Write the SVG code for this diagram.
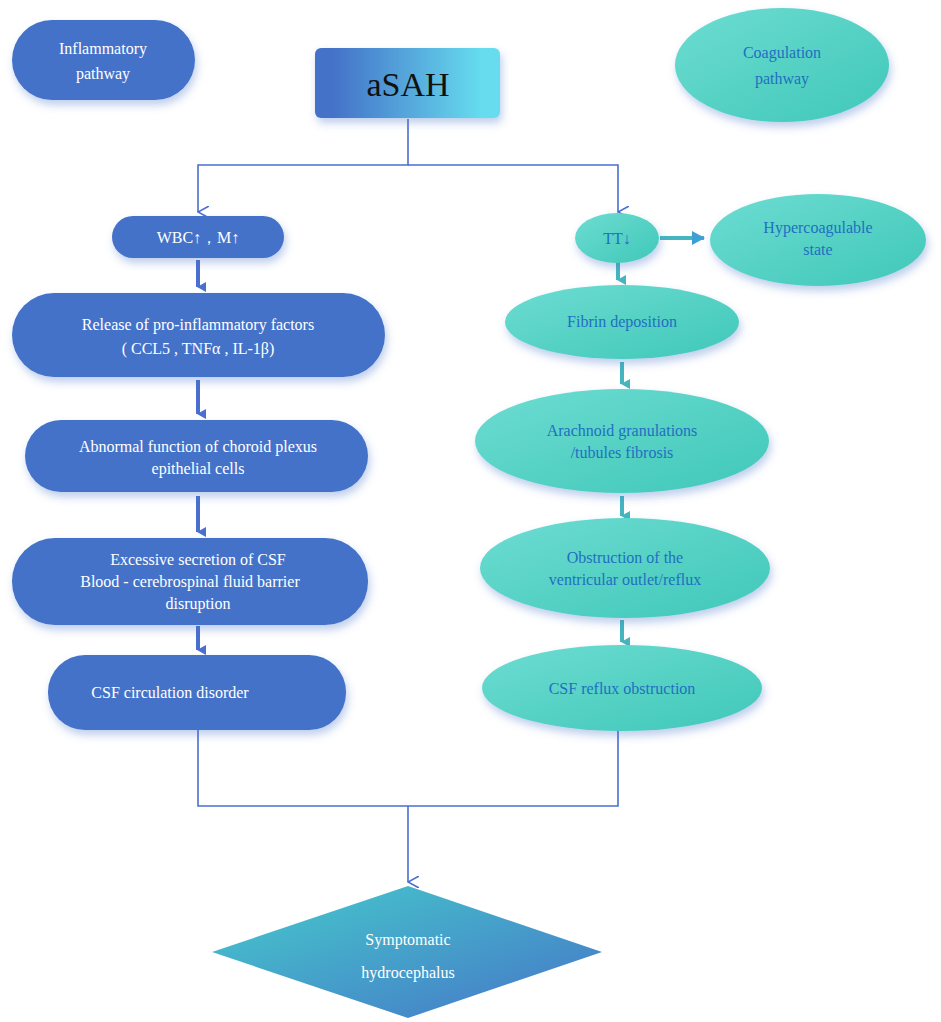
<svg xmlns="http://www.w3.org/2000/svg" width="941" height="1022" viewBox="0 0 941 1022">
<style>
.l{fill:#4472c9}
.r{fill:url(#tg)}
.lt{font-family:"Liberation Serif",serif;font-size:16px;fill:#fff;text-anchor:middle}
.rt{font-family:"Liberation Serif",serif;font-size:16px;fill:#1f6fc0;text-anchor:middle}
.c{stroke:#4a6fcf;stroke-width:1.6;fill:none}
.th{stroke:#4a6fcf;stroke-width:4;fill:none}
.tt{stroke:#45b5c0;stroke-width:4;fill:none}
</style>
<defs>
<linearGradient id="tg" x1="0" y1="0" x2="1" y2="1"><stop offset="0" stop-color="#6edcd2"/><stop offset="1" stop-color="#3fc8b8"/></linearGradient>
<linearGradient id="ag" x1="0" y1="0" x2="1" y2="0"><stop offset="0.1" stop-color="#4472c9"/><stop offset="0.9" stop-color="#66dcee"/></linearGradient>
<linearGradient id="dg" x1="0" y1="0" x2="1" y2="1"><stop offset="0" stop-color="#45cccc"/><stop offset="1" stop-color="#4575c8"/></linearGradient>
<filter id="sh" x="-20%" y="-20%" width="140%" height="150%"><feDropShadow dx="2" dy="5" stdDeviation="4" flood-color="#4472c9" flood-opacity="0.35"/></filter>
<marker id="oa" markerWidth="12" markerHeight="12" refX="6" refY="11" orient="auto-start-reverse" markerUnits="userSpaceOnUse"><path d="M0 0 L6 11 L12 0" fill="none" stroke="#4a6fcf" stroke-width="1.6"/></marker>
<marker id="fa" markerWidth="10" markerHeight="10" refX="5" refY="8" orient="auto" markerUnits="userSpaceOnUse"><path d="M0 0 L10 0 L5 9 Z" fill="#4a6fcf"/></marker>
<marker id="ta" markerWidth="14" markerHeight="14" refX="12" refY="7" orient="auto" markerUnits="userSpaceOnUse"><path d="M0 0 L13 7 L0 14 Z" fill="#3e9ed6"/></marker>
<marker id="td" markerWidth="10" markerHeight="10" refX="5" refY="8" orient="auto" markerUnits="userSpaceOnUse"><path d="M0 0 L10 0 L5 9 Z" fill="#45b5c0"/></marker>
</defs>
<g id="connectors">
<path class="c" d="M408 119 V165 H198 V212" marker-end="url(#oa)"/>
<path class="c" d="M408 165 H618 V212" marker-end="url(#oa)"/>
<path class="c" d="M198 730 V806 H618 V730"/>
<path class="c" d="M408 806 V882" marker-end="url(#oa)"/>
<path class="th" d="M198 260 V287" marker-end="url(#fa)"/>
<path class="th" d="M198 380 V414" marker-end="url(#fa)"/>
<path class="th" d="M198 496 V532" marker-end="url(#fa)"/>
<path class="th" d="M198 626 V650" marker-end="url(#fa)"/>
<path class="tt" d="M660 238 H704" stroke="#3e9ed6" marker-end="url(#ta)"/>
<path class="tt" d="M618 262 V280" marker-end="url(#td)"/>
<path class="tt" d="M622 362 V384" marker-end="url(#td)"/>
<path class="tt" d="M622 496 V516" marker-end="url(#td)"/>
<path class="tt" d="M622 620 V642" marker-end="url(#td)"/>
</g>
<g id="inflammatory"><rect class="l" x="12" y="20" width="183" height="80" rx="40" filter="url(#sh)"/><text class="lt" font-size="18" x="103" y="54">Inflammatory</text><text class="lt" font-size="18" x="103" y="79">pathway</text></g>
<g id="asah"><rect x="315" y="48" width="185" height="70" rx="6" fill="url(#ag)" filter="url(#sh)"/><text x="408" y="96" font-family="Liberation Serif,serif" font-size="34" text-anchor="middle" fill="#111">aSAH</text></g>
<g id="coagulation"><ellipse class="r" cx="782" cy="65" rx="107" ry="57" filter="url(#sh)"/><text class="rt" font-size="20" x="782" y="58">Coagulation</text><text class="rt" font-size="20" x="782" y="84">pathway</text></g>
<g id="wbc"><rect class="l" x="112" y="216" width="172" height="42" rx="21" filter="url(#sh)"/><text class="lt" font-size="15" x="198" y="243">WBC↑，M↑</text></g>
<g id="release"><rect class="l" x="12" y="293" width="373" height="84" rx="42" filter="url(#sh)"/><text class="lt" x="198" y="330">Release of pro-inflammatory factors</text><text class="lt" x="198" y="354">( CCL5 , TNFα , IL-1β)</text></g>
<g id="abnormal"><rect class="l" x="25" y="420" width="343" height="72" rx="36" filter="url(#sh)"/><text class="lt" x="198" y="452">Abnormal function of choroid plexus</text><text class="lt" x="198" y="474">epithelial cells</text></g>
<g id="excessive"><rect class="l" x="12" y="538" width="356" height="87" rx="43" filter="url(#sh)"/><text class="lt" x="198" y="565">Excessive secretion of CSF</text><text class="lt" x="190" y="587">Blood - cerebrospinal fluid barrier</text><text class="lt" x="198" y="609">disruption</text></g>
<g id="csfcirc"><rect class="l" x="48" y="655" width="298" height="75" rx="37" filter="url(#sh)"/><text class="lt" x="170" y="698">CSF circulation disorder</text></g>
<g id="tt"><ellipse class="r" cx="617" cy="238" rx="42" ry="25" filter="url(#sh)"/><text class="rt" font-size="15" x="617" y="244">TT↓</text></g>
<g id="hyper"><ellipse class="r" cx="818" cy="240" rx="108" ry="46" filter="url(#sh)"/><text class="rt" x="818" y="233">Hypercoagulable</text><text class="rt" x="818" y="255">state</text></g>
<g id="fibrin"><ellipse class="r" cx="622" cy="322" rx="117" ry="37" filter="url(#sh)"/><text class="rt" x="622" y="327">Fibrin deposition</text></g>
<g id="arachnoid"><ellipse class="r" cx="622" cy="441" rx="147" ry="52" filter="url(#sh)"/><text class="rt" x="622" y="436">Arachnoid granulations</text><text class="rt" x="622" y="458">/tubules fibrosis</text></g>
<g id="obstruction"><ellipse class="r" cx="625" cy="568" rx="145" ry="50" filter="url(#sh)"/><text class="rt" x="625" y="563">Obstruction of the</text><text class="rt" x="625" y="585">ventricular outlet/reflux</text></g>
<g id="reflux"><ellipse class="r" cx="622" cy="688" rx="140" ry="43" filter="url(#sh)"/><text class="rt" x="622" y="694">CSF reflux obstruction</text></g>
<g id="hydro"><polygon points="408,886 602,952 408,1018 212,952" fill="url(#dg)"/><text class="lt" font-size="24" x="408" y="945">Symptomatic</text><text class="lt" font-size="24" x="408" y="978">hydrocephalus</text></g>
</svg>
